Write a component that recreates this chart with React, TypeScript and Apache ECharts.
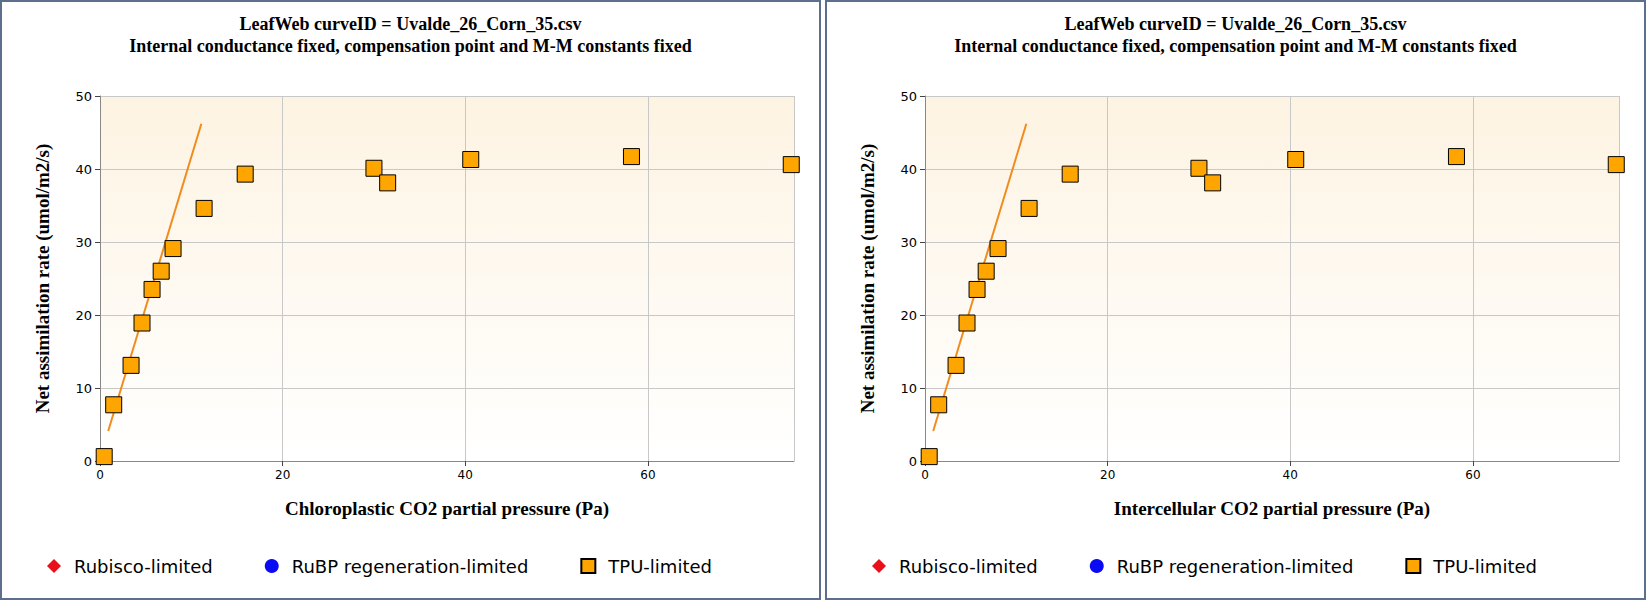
import { useRef, useEffect } from "react";
import * as echarts from "echarts";

const titleText = "LeafWeb curveID = Uvalde_26_Corn_35.csv";
const subtitleText = "Internal conductance fixed, compensation point and M-M constants fixed";
const xAxisNames = ["Chloroplastic CO2 partial pressure (Pa)", "Intercellular CO2 partial pressure (Pa)"];
const yAxisName = "Net assimilation rate (umol/m2/s)";

const tpuX = [0.46, 1.5, 3.4, 4.6, 5.7, 6.7, 8.0, 11.4, 15.9, 30.0, 31.5, 40.6, 58.2, 75.7];
const tpuY = [0.6, 7.7, 13.1, 18.9, 23.5, 26.0, 29.1, 34.6, 39.3, 40.1, 38.1, 41.3, 41.7, 40.6];
const fitX = [0.9, 11.1];
const fitY = [4.1, 46.2];

function Chart({ xName }: { xName: string }) {
  const chartRef = useRef<HTMLDivElement>(null);

  useEffect(() => {
    if (!chartRef.current) return;
    const chart = echarts.init(chartRef.current, undefined, { renderer: "svg" });
    const serif = "'Liberation Serif', 'DejaVu Serif', serif";
    const sans = "'DejaVu Sans', sans-serif";

    chart.setOption({
      animation: false,
      title: {
        text: titleText,
        subtext: subtitleText,
        left: "center",
        top: 8,
        itemGap: 4,
        textStyle: { fontFamily: serif, fontWeight: "bold", fontSize: 18, color: "#000" },
        subtextStyle: { fontFamily: serif, fontWeight: "bold", fontSize: 18, color: "#000" },
      },
      legend: {
        bottom: 18,
        left: 40,
        itemGap: 52,
        itemWidth: 14,
        itemHeight: 14,
        textStyle: { fontFamily: sans, fontSize: 18, color: "#000", padding: [0, 0, 0, 8] },
        data: ["Rubisco-limited", "RuBP regeneration-limited", "TPU-limited"],
      },
      grid: {
        left: 98,
        right: 25,
        top: 94,
        bottom: 137,
        show: true,
        borderWidth: 0,
        backgroundColor: new echarts.graphic.LinearGradient(0, 0, 0, 1, [
          { offset: 0, color: "#fdf3e2" },
          { offset: 1, color: "#ffffff" },
        ]),
      },
      xAxis: {
        type: "value",
        min: 0,
        max: 76,
        interval: 20,
        name: xName,
        nameLocation: "middle",
        nameGap: 38,
        nameTextStyle: { fontFamily: serif, fontWeight: "bold", fontSize: 19, color: "#000" },
        axisLine: { lineStyle: { color: "#888" } },
        axisTick: { lineStyle: { color: "#444" } },
        axisLabel: { fontFamily: sans, fontSize: 12, color: "#000", showMaxLabel: false },
        splitLine: { lineStyle: { color: "#c8c8c8" } },
      },
      yAxis: {
        type: "value",
        min: 0,
        max: 50,
        interval: 10,
        name: yAxisName,
        nameLocation: "middle",
        nameGap: 48,
        nameTextStyle: { fontFamily: serif, fontWeight: "bold", fontSize: 19, color: "#000" },
        axisLine: { show: true, lineStyle: { color: "#888" } },
        axisTick: { show: true, lineStyle: { color: "#444" } },
        axisLabel: { fontFamily: sans, fontSize: 13, color: "#000" },
        splitLine: { lineStyle: { color: "#c8c8c8" } },
      },
      series: [
        {
          name: "Rubisco-limited",
          type: "scatter",
          symbol: "diamond",
          itemStyle: { color: "#e8101a", opacity: 1 },
          data: [],
        },
        {
          name: "RuBP regeneration-limited",
          type: "scatter",
          symbol: "circle",
          itemStyle: { color: "#0a0af5", opacity: 1 },
          data: [],
        },
        {
          name: "fit",
          type: "line",
          showSymbol: false,
          symbol: "none",
          lineStyle: { color: "#f08c1e", width: 2 },
          data: fitX.map((x, i) => [x, fitY[i]]),
          z: 2,
        },
        {
          name: "TPU-limited",
          type: "scatter",
          symbol: "rect",
          symbolSize: 16,
          itemStyle: { color: "#ffa500", borderColor: "#000", borderWidth: 1, opacity: 1 },
          data: tpuX.map((x, i) => [x, tpuY[i]]),
          z: 3,
        },
      ],
    });

    return () => {
      chart.dispose();
    };
  }, [xName]);

  return <div ref={chartRef} style={{ width: "100%", height: "100%" }} />;
}

export default function App() {
  useEffect(() => {
    document.body.style.margin = "0";
  }, []);

  return (
    <div style={{ display: "flex", width: 1650, height: 600, background: "#fff" }}>
      {xAxisNames.map((name) => (
        <div
          key={name}
          style={{
            width: 821,
            height: 596,
            border: "2px solid #5d6f8c",
            marginRight: 4,
          }}
        >
          <Chart xName={name} />
        </div>
      ))}
    </div>
  );
}
